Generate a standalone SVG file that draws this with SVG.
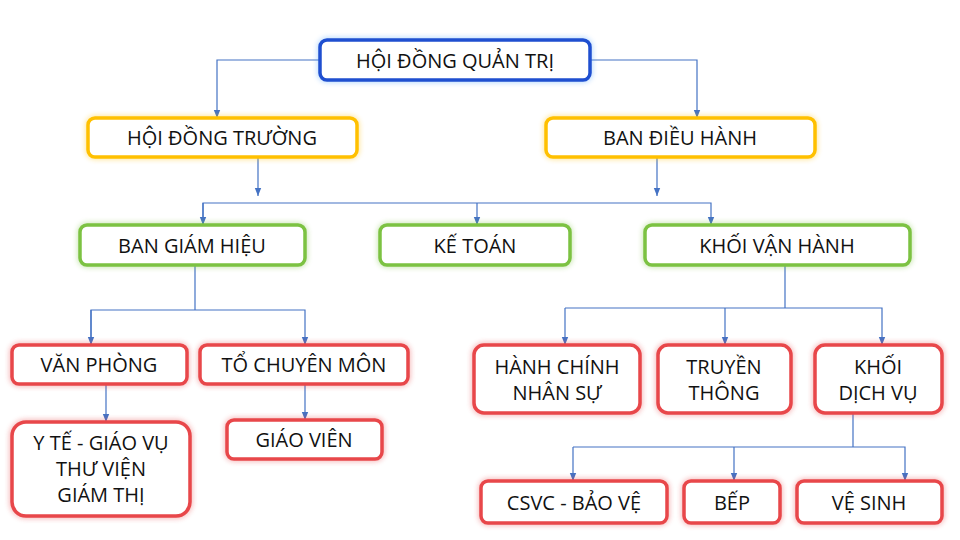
<svg xmlns="http://www.w3.org/2000/svg" width="960" height="540" viewBox="0 0 960 540">
<defs>
<marker id="ar" viewBox="0 0 10 10" refX="10" refY="5" markerWidth="7" markerHeight="7" orient="auto"><path d="M0,1 L10,5 L0,9 z" fill="#4472c4"/></marker>
<filter id="glow" x="-20%" y="-50%" width="140%" height="200%"><feGaussianBlur stdDeviation="2.5"/></filter>
</defs>
<style>
.n{fill:#fff;stroke-width:3.5}
.g{fill:none;stroke-width:6;opacity:.35;filter:url(#glow)}
.b{stroke:#1f4fd0}.y{stroke:#ffc000}.gr{stroke:#7cc242}.r{stroke:#e8474a}
text{font-family:"Open Sans","Noto Sans",sans-serif;font-size:20px;fill:#111;text-anchor:middle;dominant-baseline:central}
.c path{fill:none;stroke:#4472c4;stroke-width:1.2}
</style>
<rect width="960" height="540" fill="#fff"/>
<g class="c">
<path d="M320,60 H217 V118" marker-end="url(#ar)"/>
<path d="M590,60 H697 V118" marker-end="url(#ar)"/>
<path d="M258,157 V196" marker-end="url(#ar)"/>
<path d="M657,157 V196" marker-end="url(#ar)"/>
<path d="M203,225 V203 H711 V225" marker-end="url(#ar)"/>
<path d="M203,203 V225" marker-end="url(#ar)"/>
<path d="M477,203 V225" marker-end="url(#ar)"/>
<path d="M195,265 V310"/>
<path d="M91,345 V310 H305 V345" marker-end="url(#ar)"/>
<path d="M91,310 V345" marker-end="url(#ar)"/>
<path d="M106,384 V422" marker-end="url(#ar)"/>
<path d="M305,384 V420" marker-end="url(#ar)"/>
<path d="M785,265 V308"/>
<path d="M565,308 H882 V345" marker-end="url(#ar)"/>
<path d="M565,308 V345" marker-end="url(#ar)"/>
<path d="M725,308 V345" marker-end="url(#ar)"/>
<path d="M853,413 V447"/>
<path d="M573,447 H905 V481" marker-end="url(#ar)"/>
<path d="M573,447 V481" marker-end="url(#ar)"/>
<path d="M734,447 V481" marker-end="url(#ar)"/>
</g>
<g id="hdqt"><rect class="g b" x="320" y="40" width="270" height="40" rx="7" style="stroke:#4aa0ff"/><rect class="n b" x="320" y="40" width="270" height="40" rx="7"/><text x="455" y="60">HỘI ĐỒNG QUẢN TRỊ</text></g>
<g id="hdt"><rect class="g y" x="88" y="118" width="269" height="39" rx="7"/><rect class="n y" x="88" y="118" width="269" height="39" rx="7"/><text x="222" y="137">HỘI ĐỒNG TRƯỜNG</text></g>
<g id="bdh"><rect class="g y" x="546" y="118" width="269" height="39" rx="7"/><rect class="n y" x="546" y="118" width="269" height="39" rx="7"/><text x="680" y="137">BAN ĐIỀU HÀNH</text></g>
<g id="bgh"><rect class="g gr" x="80" y="225" width="225" height="40" rx="7"/><rect class="n gr" x="80" y="225" width="225" height="40" rx="7"/><text x="192" y="245">BAN GIÁM HIỆU</text></g>
<g id="kt"><rect class="g gr" x="380" y="225" width="190" height="40" rx="7"/><rect class="n gr" x="380" y="225" width="190" height="40" rx="7"/><text x="475" y="245">KẾ TOÁN</text></g>
<g id="kvh"><rect class="g gr" x="645" y="225" width="265" height="40" rx="7"/><rect class="n gr" x="645" y="225" width="265" height="40" rx="7"/><text x="777" y="245">KHỐI VẬN HÀNH</text></g>
<g id="vp"><rect class="g r" x="12" y="345" width="175" height="39" rx="7"/><rect class="n r" x="12" y="345" width="175" height="39" rx="7"/><text x="99" y="364">VĂN PHÒNG</text></g>
<g id="tcm"><rect class="g r" x="200" y="345" width="208" height="39" rx="7"/><rect class="n r" x="200" y="345" width="208" height="39" rx="7"/><text x="304" y="364">TỔ CHUYÊN MÔN</text></g>
<g id="yte"><rect class="g r" x="12" y="422" width="178" height="94" rx="14"/><rect class="n r" x="12" y="422" width="178" height="94" rx="14"/><text x="101" y="442">Y TẾ - GIÁO VỤ</text><text x="101" y="468">THƯ VIỆN</text><text x="101" y="494">GIÁM THỊ</text></g>
<g id="gv"><rect class="g r" x="227" y="420" width="155" height="39" rx="7"/><rect class="n r" x="227" y="420" width="155" height="39" rx="7"/><text x="304" y="439">GIÁO VIÊN</text></g>
<g id="hcns"><rect class="g r" x="474" y="345" width="166" height="68" rx="10"/><rect class="n r" x="474" y="345" width="166" height="68" rx="10"/><text x="557" y="366">HÀNH CHÍNH</text><text x="557" y="392">NHÂN SỰ</text></g>
<g id="tt"><rect class="g r" x="658" y="345" width="133" height="68" rx="10"/><rect class="n r" x="658" y="345" width="133" height="68" rx="10"/><text x="724" y="366">TRUYỀN</text><text x="724" y="392">THÔNG</text></g>
<g id="kdv"><rect class="g r" x="815" y="345" width="127" height="68" rx="10"/><rect class="n r" x="815" y="345" width="127" height="68" rx="10"/><text x="878" y="366">KHỐI</text><text x="878" y="392">DỊCH VỤ</text></g>
<g id="csvc"><rect class="g r" x="481" y="481" width="186" height="42" rx="7"/><rect class="n r" x="481" y="481" width="186" height="42" rx="7"/><text x="574" y="502">CSVC - BẢO VỆ</text></g>
<g id="bep"><rect class="g r" x="684" y="481" width="96" height="42" rx="7"/><rect class="n r" x="684" y="481" width="96" height="42" rx="7"/><text x="732" y="502">BẾP</text></g>
<g id="vs"><rect class="g r" x="797" y="481" width="145" height="42" rx="7"/><rect class="n r" x="797" y="481" width="145" height="42" rx="7"/><text x="869" y="502">VỆ SINH</text></g>
</svg>
